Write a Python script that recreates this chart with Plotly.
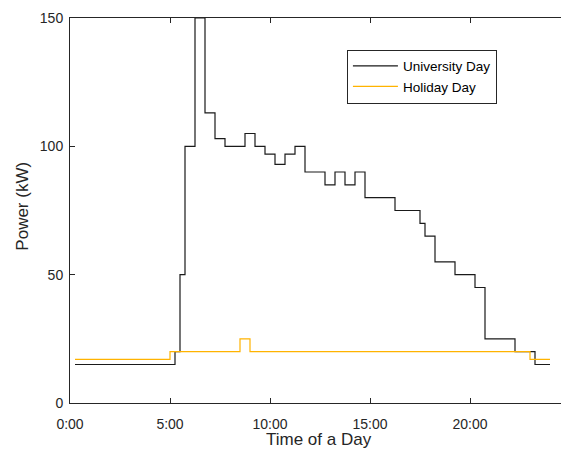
import plotly.graph_objects as go

# Step start times (hours) and power levels (kW)
uni_time = [0.25, 5.25, 5.5, 5.75, 6.25, 6.75, 7.25, 7.75, 8.75, 9.25, 9.75,
            10.25, 10.75, 11.25, 11.75, 12.75, 13.25, 13.75, 14.25, 14.75,
            16.25, 17.5, 17.75, 18.25, 19.25, 20.25, 20.75, 22.25, 23.25, 24.0]
uni_power = [15, 20, 50, 100, 150, 113, 103, 100, 105, 100, 97,
             93, 97, 100, 90, 85, 90, 85, 90, 80,
             75, 70, 65, 55, 50, 45, 25, 20, 15, 15]

hol_time = [0.25, 5.0, 8.5, 9.0, 23.0, 24.0]
hol_power = [17, 20, 25, 20, 17, 17]

tick_hours = [0, 5, 10, 15, 20]
tick_labels = ["0:00", "5:00", "10:00", "15:00", "20:00"]

FONT = "Liberation Sans, Arial, sans-serif"
AXIS_COLOR = "#262626"

fig = go.Figure()
fig.add_trace(go.Scatter(
    x=uni_time, y=uni_power, mode="lines", line_shape="hv",
    name="University Day", line=dict(color="#1a1a1a", width=1.2),
))
fig.add_trace(go.Scatter(
    x=hol_time, y=hol_power, mode="lines", line_shape="hv",
    name="Holiday Day", line=dict(color="#FFB300", width=1.2),
))

fig.update_layout(
    width=561, height=450,
    margin=dict(l=70, r=0, t=18, b=47),
    plot_bgcolor="white", paper_bgcolor="white",
    font=dict(family=FONT, color=AXIS_COLOR),
    legend=dict(
        x=0.564, y=0.918, xanchor="left", yanchor="top",
        bordercolor="#262626", borderwidth=1, bgcolor="white",
        font=dict(size=13.5, color="#000000"),
        tracegroupgap=0, itemwidth=45, entrywidth=104,
    ),
    xaxis=dict(
        range=[0, 24.55], tickvals=tick_hours, ticktext=tick_labels,
        automargin=False,
        showgrid=False, zeroline=False, showline=True, linecolor=AXIS_COLOR,
        linewidth=1, mirror="ticks", ticks="inside", ticklen=5,
        tickcolor=AXIS_COLOR, tickfont=dict(size=14, color=AXIS_COLOR),
        ticklabelstandoff=8,
    ),
    yaxis=dict(
        range=[0, 150], tickvals=[0, 50, 100, 150],
        automargin=False,
        showgrid=False, zeroline=False, showline=True, linecolor=AXIS_COLOR,
        linewidth=1, mirror=False, ticks="inside", ticklen=5,
        tickcolor=AXIS_COLOR, tickfont=dict(size=14, color=AXIS_COLOR),
        ticklabelstandoff=3,
    ),
)

# Axis titles placed as annotations relative to the plot area
fig.add_annotation(
    text="Time of a Day", xref="paper", yref="paper",
    x=0.507, y=-0.0961, xanchor="center", yanchor="middle", showarrow=False,
    font=dict(size=17, color=AXIS_COLOR, family=FONT),
)
fig.add_annotation(
    text="Power (kW)", xref="paper", yref="paper", textangle=-90,
    x=-0.0957, y=0.51, xanchor="center", yanchor="middle", showarrow=False,
    font=dict(size=17, color=AXIS_COLOR, family=FONT),
)

fig.write_html("out.html")
